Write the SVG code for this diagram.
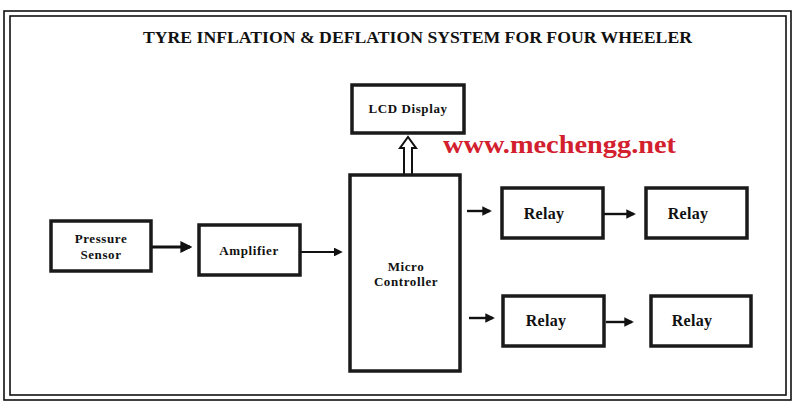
<svg xmlns="http://www.w3.org/2000/svg" width="796" height="402" viewBox="0 0 796 402">
<defs>
<style>
.frame{fill:none;stroke:#111;stroke-width:1.6}
.box{fill:#fff;stroke:#1a1a1a;stroke-width:3.5}
.lbl{font-family:"Liberation Serif","DejaVu Serif",serif;font-weight:bold;font-size:13px;letter-spacing:0.6px;fill:#111;text-anchor:middle}
.rl{font-size:16px;letter-spacing:0.3px}
.title{font-family:"Liberation Serif","DejaVu Serif",serif;font-weight:bold;font-size:16px;fill:#111}
.wm{font-family:"Liberation Serif","DejaVu Serif",serif;font-weight:bold;font-size:25px;fill:#d3202e}
.ln{stroke:#111;fill:none}
</style>
<marker id="ah" markerWidth="4" markerHeight="4" refX="3.2" refY="2" orient="auto" markerUnits="strokeWidth">
<path d="M0,0 L4,2 L0,4 Z" fill="#111"/>
</marker>
</defs>
<rect width="796" height="402" fill="#fff"/>
<rect class="frame" x="4" y="11" width="787" height="389"/>
<rect class="frame" x="10" y="16" width="776" height="379"/>
<text class="title" x="143" y="43" textLength="549" lengthAdjust="spacingAndGlyphs">TYRE INFLATION &amp; DEFLATION SYSTEM FOR FOUR WHEELER</text>
<text class="wm" x="443" y="153" textLength="233" lengthAdjust="spacingAndGlyphs">www.mechengg.net</text>
<g id="connectors">
<path class="ln" stroke-width="3" d="M151,247 H190" marker-end="url(#ah)"/>
<path class="ln" stroke-width="2.2" d="M300,252 H341" marker-end="url(#ah)"/>
<path class="ln" stroke-width="2.4" d="M467,211 H490" marker-end="url(#ah)"/>
<path class="ln" stroke-width="2.4" d="M604,214 H634" marker-end="url(#ah)"/>
<path class="ln" stroke-width="2.4" d="M469,318 H493" marker-end="url(#ah)"/>
<path class="ln" stroke-width="2.4" d="M606,322 H632" marker-end="url(#ah)"/>
<path class="ln" stroke-width="2" d="M404,175 V148 H400 L408,137 L416,148 H412 V175"/>
</g>
<g id="lcd"><rect class="box" x="352" y="85" width="112" height="48"/><text class="lbl" x="408" y="113">LCD Display</text></g>
<g id="sensor"><rect class="box" x="51" y="221" width="100" height="50"/><text class="lbl" x="101" y="243">Pressure</text><text class="lbl" x="101" y="259">Sensor</text></g>
<g id="amplifier"><rect class="box" x="199" y="225" width="101" height="50"/><text class="lbl" x="249" y="255">Amplifier</text></g>
<g id="micro"><rect class="box" x="350" y="175" width="110" height="196"/><text class="lbl" x="406" y="271">Micro</text><text class="lbl" x="406" y="286">Controller</text></g>
<g id="relay1"><rect class="box" x="502" y="188" width="101" height="50"/><text class="lbl rl" x="544" y="219">Relay</text></g>
<g id="relay2"><rect class="box" x="646" y="188" width="101" height="50"/><text class="lbl rl" x="688" y="219">Relay</text></g>
<g id="relay3"><rect class="box" x="503" y="296" width="101" height="50"/><text class="lbl rl" x="546" y="326">Relay</text></g>
<g id="relay4"><rect class="box" x="651" y="296" width="100" height="50"/><text class="lbl rl" x="692" y="326">Relay</text></g>
</svg>
